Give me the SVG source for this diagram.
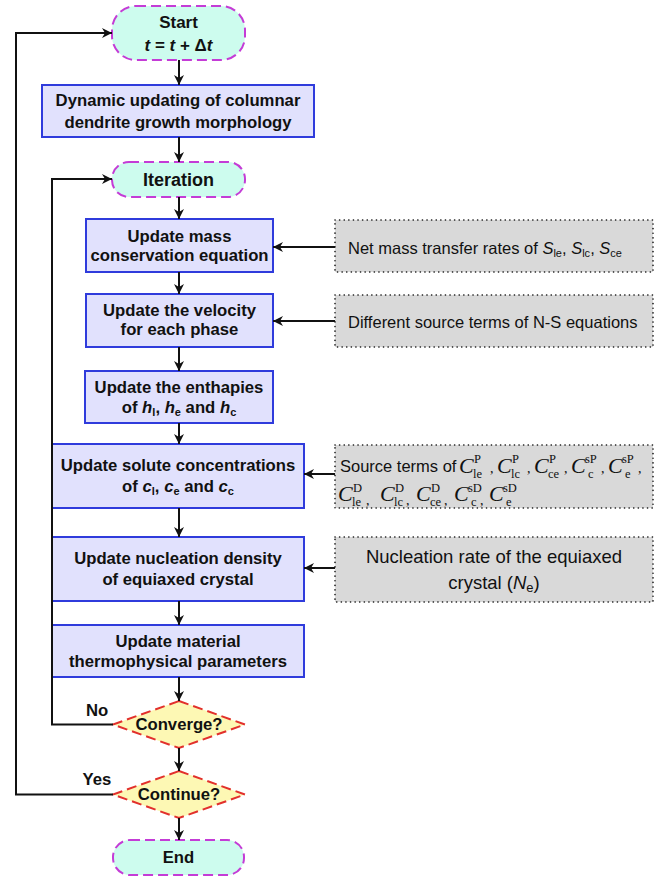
<svg xmlns="http://www.w3.org/2000/svg" width="659" height="876" viewBox="0 0 659 876">
<style>
.term{fill:#cdfcee;stroke:#c43cd6;stroke-width:2;stroke-dasharray:10 5}
.box{fill:#e1e1fd;stroke:#2f3bdc;stroke-width:2}
.dia{fill:#fdf8b4;stroke:#e2302c;stroke-width:2;stroke-dasharray:10 5}
.note{fill:#d9d9d9;stroke:#111;stroke-width:1.6;stroke-dasharray:0.1 4.5;stroke-linecap:round}
.b{font-family:"Liberation Sans",Arial,sans-serif;font-weight:bold;font-size:16.7px;fill:#111;text-anchor:middle}
.r{font-family:"Liberation Sans",Arial,sans-serif;font-size:16.5px;fill:#111}
.m{font-family:"Liberation Serif","Times New Roman",serif;fill:#111}
.conn line,.conn polyline{stroke:#111;stroke-width:2;fill:none}
</style>
<defs>
<marker id="ah" markerUnits="userSpaceOnUse" markerWidth="12" markerHeight="12" refX="10" refY="5" orient="auto" viewBox="0 0 12 10">
<path d="M0,0 L10,5 L0,10 L3,5 z" fill="#111"/>
</marker>
</defs>

<g id="start"><rect class="term" x="112" y="6" width="133" height="54" rx="24"/>
<text class="b" x="178.5" y="28" style="font-size:17px">Start</text>
<text class="b" x="178.5" y="51" style="font-size:17px"><tspan font-style="italic">t</tspan> = <tspan font-style="italic">t</tspan> + Δ<tspan font-style="italic">t</tspan></text></g>

<g id="dynamic"><rect class="box" x="42" y="85" width="272" height="52"/>
<text class="b" x="178" y="106">Dynamic updating of columnar</text>
<text class="b" x="178" y="128">dendrite growth morphology</text></g>

<g id="iteration"><rect class="term" x="112" y="162" width="133" height="35" rx="17"/>
<text class="b" x="178.5" y="185.5" style="font-size:18px">Iteration</text></g>

<g id="mass"><rect class="box" x="86" y="219" width="187" height="53"/>
<text class="b" x="179.5" y="242">Update mass</text>
<text class="b" x="179.5" y="261">conservation equation</text></g>

<g id="velocity"><rect class="box" x="86" y="294" width="187" height="53"/>
<text class="b" x="179.5" y="316">Update the velocity</text>
<text class="b" x="179.5" y="335">for each phase</text></g>

<g id="enthalpy"><rect class="box" x="85" y="371" width="188" height="52"/>
<text class="b" x="179" y="393">Update the enthapies</text>
<text class="b" x="179" y="413">of <tspan font-style="italic">h</tspan><tspan font-size="11" dy="3">l</tspan><tspan dy="-3">, </tspan><tspan font-style="italic">h</tspan><tspan font-size="11" dy="3">e</tspan><tspan dy="-3"> and </tspan><tspan font-style="italic">h</tspan><tspan font-size="11" dy="3">c</tspan></text></g>

<g id="solute"><rect class="box" x="52" y="444" width="252" height="64"/>
<text class="b" x="178" y="471">Update solute concentrations</text>
<text class="b" x="178" y="492">of <tspan font-style="italic">c</tspan><tspan font-size="11" dy="3">l</tspan><tspan dy="-3">, </tspan><tspan font-style="italic">c</tspan><tspan font-size="11" dy="3">e</tspan><tspan dy="-3"> and </tspan><tspan font-style="italic">c</tspan><tspan font-size="11" dy="3">c</tspan></text></g>

<g id="nucleation"><rect class="box" x="52" y="537" width="252" height="64"/>
<text class="b" x="178" y="564">Update nucleation density</text>
<text class="b" x="178" y="585">of equiaxed crystal</text></g>

<g id="material"><rect class="box" x="52" y="625" width="252" height="52"/>
<text class="b" x="178" y="647">Update material</text>
<text class="b" x="178" y="667">thermophysical parameters</text></g>

<g id="converge"><polygon class="dia" points="179,701 245,724.5 179,748 113,724.5"/>
<text class="b" x="179" y="730">Converge?</text></g>

<g id="continue"><polygon class="dia" points="179,771 245,794.5 179,818 113,794.5"/>
<text class="b" x="179" y="800">Continue?</text></g>

<g id="end"><rect class="term" x="113" y="840" width="131" height="35" rx="17"/>
<text class="b" x="178.5" y="863">End</text></g>

<g id="note-mass"><rect class="note" x="335" y="220" width="318" height="52"/>
<text class="r" x="348" y="254">Net mass transfer rates of <tspan font-style="italic">S</tspan><tspan font-size="11" dy="3">le</tspan><tspan dy="-3">, </tspan><tspan font-style="italic">S</tspan><tspan font-size="11" dy="3">lc</tspan><tspan dy="-3">, </tspan><tspan font-style="italic">S</tspan><tspan font-size="11" dy="3">ce</tspan></text></g>

<g id="note-ns"><rect class="note" x="335" y="295" width="318" height="52"/>
<text class="r" x="348" y="328">Different source terms of N-S equations</text></g>

<g id="note-source"><rect class="note" x="335" y="445" width="318" height="63"/>
<text class="r" x="340" y="472">Source terms of</text>
<g class="m">
<text x="459" y="473" font-size="22" font-style="italic">C</text><text x="474" y="463" font-size="12.5">P</text><text x="473" y="478" font-size="12.5">le</text><text x="490" y="473" font-size="14">,</text>
<text x="497" y="473" font-size="22" font-style="italic">C</text><text x="512" y="463" font-size="12.5">P</text><text x="511" y="478" font-size="12.5">lc</text><text x="527" y="473" font-size="14">,</text>
<text x="534" y="473" font-size="22" font-style="italic">C</text><text x="549" y="463" font-size="12.5">P</text><text x="548" y="478" font-size="12.5">ce</text><text x="564" y="473" font-size="14">,</text>
<text x="571" y="473" font-size="22" font-style="italic">C</text><text x="585" y="463" font-size="12.5">sP</text><text x="588" y="478" font-size="12.5">c</text><text x="601" y="473" font-size="14">,</text>
<text x="608" y="473" font-size="22" font-style="italic">C</text><text x="622" y="463" font-size="12.5">sP</text><text x="625" y="478" font-size="12.5">e</text><text x="638" y="473" font-size="14">,</text>
<text x="338" y="501" font-size="22" font-style="italic">C</text><text x="353" y="492" font-size="12.5">D</text><text x="352" y="506" font-size="12.5">le</text><text x="366" y="505" font-size="14">,</text>
<text x="380" y="501" font-size="22" font-style="italic">C</text><text x="395" y="492" font-size="12.5">D</text><text x="394" y="506" font-size="12.5">lc</text><text x="406" y="505" font-size="14">,</text>
<text x="416" y="501" font-size="22" font-style="italic">C</text><text x="431" y="492" font-size="12.5">D</text><text x="430" y="506" font-size="12.5">ce</text><text x="444" y="505" font-size="14">,</text>
<text x="454" y="501" font-size="22" font-style="italic">C</text><text x="468" y="492" font-size="12.5">sD</text><text x="471" y="506" font-size="12.5">c</text><text x="480" y="505" font-size="14">,</text>
<text x="489" y="501" font-size="22" font-style="italic">C</text><text x="503" y="492" font-size="12.5">sD</text><text x="506" y="506" font-size="12.5">e</text>
</g></g>

<g id="note-nucl"><rect class="note" x="335" y="537" width="318" height="65"/>
<text class="r" x="494" y="563" style="font-size:18.5px" text-anchor="middle">Nucleation rate of the equiaxed</text>
<text class="r" x="494" y="589" style="font-size:18.5px" text-anchor="middle">crystal (<tspan font-style="italic">N</tspan><tspan font-size="13" dy="3">e</tspan><tspan dy="-3">)</tspan></text></g>

<g id="connectors" class="conn">
<line x1="179" y1="60" x2="179" y2="85" marker-end="url(#ah)"/>
<line x1="179" y1="137" x2="179" y2="162" marker-end="url(#ah)"/>
<line x1="179" y1="197" x2="179" y2="219" marker-end="url(#ah)"/>
<line x1="179" y1="272" x2="179" y2="294" marker-end="url(#ah)"/>
<line x1="179" y1="347" x2="179" y2="371" marker-end="url(#ah)"/>
<line x1="179" y1="423" x2="179" y2="444" marker-end="url(#ah)"/>
<line x1="179" y1="508" x2="179" y2="537" marker-end="url(#ah)"/>
<line x1="179" y1="601" x2="179" y2="625" marker-end="url(#ah)"/>
<line x1="179" y1="677" x2="179" y2="701" marker-end="url(#ah)"/>
<line x1="179" y1="748" x2="179" y2="771" marker-end="url(#ah)"/>
<line x1="179" y1="818" x2="179" y2="840" marker-end="url(#ah)"/>
<polyline points="113,724.5 52,724.5 52,179 112,179" marker-end="url(#ah)"/>
<polyline points="113,794.5 16,794.5 16,33 112,33" marker-end="url(#ah)"/>
<line x1="335" y1="247" x2="273" y2="247" marker-end="url(#ah)"/>
<line x1="335" y1="321" x2="273" y2="321" marker-end="url(#ah)"/>
<line x1="335" y1="474" x2="304" y2="474" marker-end="url(#ah)"/>
<line x1="335" y1="568" x2="304" y2="568" marker-end="url(#ah)"/>
</g>
<text class="b" x="97" y="716">No</text>
<text class="b" x="97" y="785">Yes</text>
</svg>
